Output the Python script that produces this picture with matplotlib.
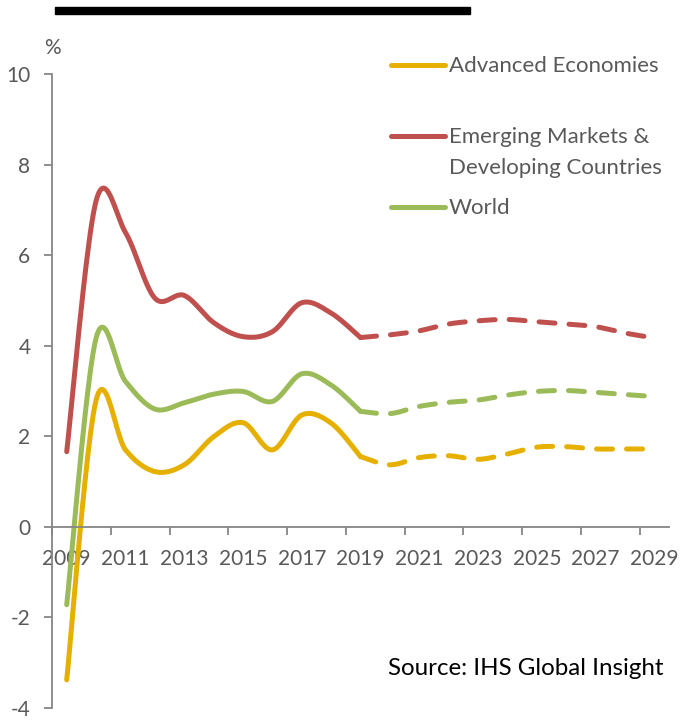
import numpy as np
import matplotlib.pyplot as plt
from matplotlib.lines import Line2D
from matplotlib.patches import Rectangle

# GDP growth, % (history solid, projection dashed)
years_hist = list(range(2009, 2020))
years_proj = list(range(2019, 2030))

adv_hist = [-3.38, 2.80, 1.70, 1.22, 1.37, 1.99, 2.30, 1.70, 2.47, 2.29, 1.55]
adv_proj = [1.55, 1.37, 1.53, 1.57, 1.49, 1.61, 1.76, 1.77, 1.72, 1.72, 1.72]

em_hist = [1.66, 7.20, 6.50, 5.05, 5.11, 4.51, 4.20, 4.31, 4.95, 4.72, 4.18]
em_proj = [4.18, 4.24, 4.33, 4.48, 4.55, 4.58, 4.53, 4.48, 4.42, 4.28, 4.17]

world_hist = [-1.72, 4.17, 3.21, 2.60, 2.74, 2.93, 2.99, 2.77, 3.38, 3.13, 2.55]
world_proj = [2.55, 2.50, 2.66, 2.75, 2.80, 2.91, 2.99, 3.01, 2.97, 2.92, 2.88]

series_names = ['Advanced Economies', 'Emerging Markets &\nDeveloping Countries', 'World']
series_colors = ['#E6B000', '#C0504D', '#9BBB59']

year_labels = list(range(2009, 2030, 2))
y_ticks = list(range(-4, 11, 2))

FONT = 'Lato'
GREY = '#595959'


def smooth(xs, ys, n=24):
    """Excel-like smoothed line (Bezier with 1/6 neighbour tangents)."""
    p = np.column_stack([xs, ys]).astype(float)
    t = np.linspace(0, 1, n)[:, None]
    out = []
    for i in range(len(p) - 1):
        prev = p[i - 1] if i > 0 else p[i]
        nxt = p[i + 2] if i + 2 < len(p) else p[i + 1]
        c1 = p[i] + (p[i + 1] - prev) / 6
        c2 = p[i + 1] - (nxt - p[i]) / 6
        seg = ((1 - t) ** 3 * p[i] + 3 * (1 - t) ** 2 * t * c1
               + 3 * (1 - t) * t ** 2 * c2 + t ** 3 * p[i + 1])
        out.append(seg if i == 0 else seg[1:])
    out = np.vstack(out)
    return out[:, 0], out[:, 1]


fig = plt.figure(figsize=(6.8, 7.2), dpi=100)
ax = fig.add_axes([0.0765, 0.0167, 0.9075, 0.8805])

lw = 3.6
hist = [adv_hist, em_hist, world_hist]
proj = [adv_proj, em_proj, world_proj]
for h, p, c in zip(hist, proj, series_colors):
    sx, sy = smooth(years_hist, h)
    ax.plot(sx, sy, color=c, lw=lw, solid_capstyle='round', solid_joinstyle='round')
    dx, dy = smooth(years_proj, p)
    ax.plot(dx, dy, color=c, lw=lw, dashes=(3.2, 2.8), dash_capstyle='round')

ax.set_xlim(2008.5, 2029.5)
ax.set_ylim(-4, 10)

for s in ['top', 'right']:
    ax.spines[s].set_visible(False)
ax.spines['bottom'].set_position(('data', 0))
for s in ['left', 'bottom']:
    ax.spines[s].set_color('#868686')
    ax.spines[s].set_linewidth(1.3)

# category axis: ticks between categories, labels at centres
ax.set_xticks([y - 0.5 for y in year_labels])
ax.set_xticklabels([])
ax.set_xticks(year_labels, minor=True)
ax.set_xticklabels([str(y) for y in year_labels], minor=True)
ax.tick_params(axis='x', which='major', direction='out', length=6, width=1.3, color='#868686')
ax.tick_params(axis='x', which='minor', length=0, pad=16, labelsize=15, labelcolor=GREY)

ax.set_yticks(y_ticks)
ax.set_yticklabels([str(v) for v in y_ticks])
ax.tick_params(axis='y', direction='out', length=5.5, width=1.3, color='#868686',
               pad=10, labelsize=15, labelcolor=GREY)
for lab in ax.get_xticklabels(minor=True) + ax.get_yticklabels():
    lab.set_fontfamily(FONT)

fig.text(0.0765, 0.933, '%', ha='center', va='center', fontsize=15,
         color=GREY, family=FONT)

# legend
leg_y = [0.9097, 0.8111, 0.7125]
for name, c, ly in zip(series_names, series_colors, leg_y):
    fig.add_artist(Line2D([0.575, 0.655], [ly, ly], color=c, lw=lw,
                          solid_capstyle='round', transform=fig.transFigure))
    fig.text(0.660, ly + 0.0125, name, ha='left', va='top', fontsize=16,
             color=GREY, family=FONT, linespacing=1.68)

# title rule
fig.add_artist(Rectangle((0.081, 0.9805), 0.61, 0.0097, color='black',
                         transform=fig.transFigure))

fig.text(0.5706, 0.071, 'Source: IHS Global Insight', ha='left', va='center',
         fontsize=17.4, color='black', family=FONT)

fig.savefig('out.png', dpi=100)
